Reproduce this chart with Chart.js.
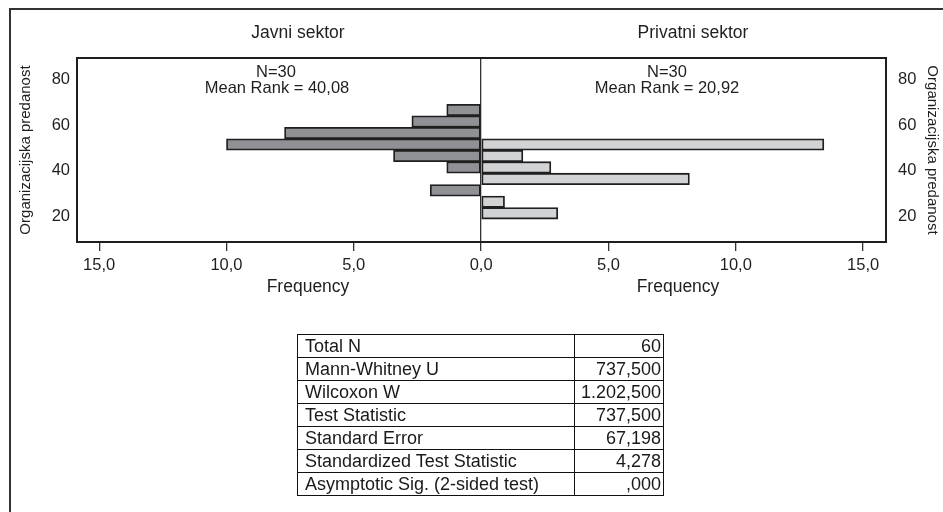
<!DOCTYPE html>
<html>
<head>
<meta charset="utf-8">
<title>Organizacijska predanost – Javni i privatni sektor</title>
<script src="https://cdn.jsdelivr.net/npm/chart.js@4/dist/chart.umd.min.js"></script>
<style>
  html, body { margin: 0; padding: 0; background: #fff; overflow: hidden; }
  #wrap { position: relative; width: 943px; height: 512px; overflow: hidden; background: #fff; }
  .rule { position: absolute; background: #333; }
  #ruleTop { left: 9px; top: 8px; width: 934px; height: 2px; }
  #ruleLeft { left: 9px; top: 8px; width: 2px; height: 504px; }
  #chart { position: absolute; left: 0; top: 0; }
  #stats { position: absolute; left: 297px; top: 334px; border-collapse: collapse;
           font-family: "Liberation Sans", Arial, sans-serif; font-size: 18px; color: #1a1a1a; }
  #stats td { border: 1px solid #111; height: 22px; padding: 0 2px 0 7px; line-height: 20px;
              white-space: nowrap; }
  #stats td.lbl { width: 267px; }
  #stats td.val { width: 84px; text-align: right; padding-left: 2px; }
</style>
</head>
<body>
<div id="wrap">
  <div class="rule" id="ruleTop"></div>
  <div class="rule" id="ruleLeft"></div>
  <canvas id="chart" width="943" height="512"></canvas>
  <table id="stats"><tbody></tbody></table>
</div>
<script>
// Histogram bins of "Organizacijska predanost" (bin centres, width 5)
const binCenters   = [21.5, 26.5, 31.5, 36.5, 41.5, 46.5, 51.5, 56.5, 61.5, 66.5];
// Frequencies per bin, public sector (left) and private sector (right)
const javniFreq    = [0, 0, 2.00, 0, 1.35, 3.44, 10.00, 7.72, 2.72, 1.35];
const privatniFreq = [3.01, 0.92, 0, 8.18, 2.74, 1.64, 13.46, 0, 0, 0];

const groupNames = ["Javni sektor", "Privatni sektor"];
const groupN     = [30, 30];
const meanRanks  = ["40,08", "20,92"];

const freqTicks  = [-15, -10, -5, 0, 5, 10, 15];
const scoreTicks = [20, 40, 60, 80];

// Independent-samples Mann-Whitney U test summary
const statLabels = ["Total N", "Mann-Whitney U", "Wilcoxon W", "Test Statistic",
                    "Standard Error", "Standardized Test Statistic", "Asymptotic Sig. (2-sided test)"];
const statValues = ["60", "737,500", "1.202,500", "737,500", "67,198", "4,278", ",000"];

const FONT = '"Liberation Sans", Arial, sans-serif';
const INK = '#1f1f1f';

// bins with zero count are simply not drawn
function toPoints(freqs, sign) {
  const pts = [];
  freqs.forEach((f, i) => { if (f > 0) pts.push({ x: sign * f, y: binCenters[i] }); });
  return pts;
}

const fmtFreq = v => Math.abs(v).toFixed(1).replace('.', ',');

// frame around the plotting area plus group captions
const decorations = {
  id: 'decorations',
  afterDraw(chart) {
    const { ctx, chartArea: a } = chart;
    ctx.save();
    ctx.strokeStyle = INK;
    ctx.lineWidth = 2;
    ctx.strokeRect(a.left, a.top, a.right - a.left, a.bottom - a.top);

    ctx.fillStyle = INK;
    ctx.textAlign = 'center';
    ctx.textBaseline = 'alphabetic';

    ctx.font = '17.5px ' + FONT;
    ctx.fillText(groupNames[0], 298, 38);
    ctx.fillText(groupNames[1], 693, 38);

    ctx.font = '16.5px ' + FONT;
    ctx.fillText('N=' + groupN[0], 276, 76.5);
    ctx.fillText('Mean Rank = ' + meanRanks[0], 277, 92.5);
    ctx.fillText('N=' + groupN[1], 667, 76.5);
    ctx.fillText('Mean Rank = ' + meanRanks[1], 667, 92.5);

    ctx.font = '17.5px ' + FONT;
    ctx.fillText('Frequency', 308, 292);
    ctx.fillText('Frequency', 678, 292);
    ctx.restore();
  }
};

const barStyle = {
  borderColor: INK,
  borderWidth: 1.8,
  borderSkipped: false,
  grouped: false,
  barPercentage: 1,
  categoryPercentage: 1,
  yAxisID: 'y'
};

new Chart(document.getElementById('chart'), {
  type: 'bar',
  data: {
    datasets: [
      Object.assign({ label: groupNames[0], data: toPoints(javniFreq, -1), backgroundColor: '#909194' }, barStyle),
      Object.assign({ label: groupNames[1], data: toPoints(privatniFreq, 1), backgroundColor: '#d2d3d5' }, barStyle)
    ]
  },
  options: {
    indexAxis: 'y',
    responsive: false,
    animation: false,
    layout: { padding: { top: 58, left: 0, right: 0, bottom: 0 } },
    plugins: { legend: { display: false }, tooltip: { enabled: false } },
    scales: {
      x: {
        type: 'linear',
        min: -15.87, max: 15.9,
        afterBuildTicks: s => { s.ticks = freqTicks.map(v => ({ value: v })); },
        afterFit: s => { s.height = 270; },
        ticks: { callback: v => fmtFreq(v), color: INK, padding: 5,
                 font: { family: FONT, size: 16.5 }, maxRotation: 0, autoSkip: false },
        grid: {
          color: c => (c.tick && c.tick.value === 0) ? '#333' : 'rgba(0,0,0,0)',
          lineWidth: 1.3, tickColor: '#333', tickLength: 9, tickWidth: 1.3
        },
        border: { display: false }
      },
      y: {
        type: 'linear',
        position: 'left',
        offset: false,
        min: 9, max: 89.2,
        afterBuildTicks: s => { s.ticks = scoreTicks.map(v => ({ value: v })); },
        afterFit: s => { s.width = 77; },
        ticks: { color: INK, padding: 7, font: { family: FONT, size: 16.5 } },
        grid: { display: false, drawTicks: false },
        border: { display: false },
        title: { display: true, text: 'Organizacijska predanost', color: INK,
                 font: { family: FONT, size: 15 }, padding: { top: 17, bottom: 0 } }
      },
      y2: {
        type: 'linear',
        position: 'right',
        offset: false,
        min: 9, max: 89.2,
        afterBuildTicks: s => { s.ticks = scoreTicks.map(v => ({ value: v })); },
        afterFit: s => { s.width = 57; },
        ticks: { color: INK, padding: 12, font: { family: FONT, size: 16.5 } },
        grid: { display: false, drawTicks: false },
        border: { display: false },
        title: { display: true, text: 'Organizacijska predanost', color: INK,
                 font: { family: FONT, size: 15 }, padding: { top: 2, bottom: 0 } }
      }
    }
  },
  plugins: [decorations]
});

// summary table below the chart
const tbody = document.querySelector('#stats tbody');
statLabels.forEach((lbl, i) => {
  const tr = document.createElement('tr');
  const a = document.createElement('td'); a.className = 'lbl'; a.textContent = lbl;
  const b = document.createElement('td'); b.className = 'val'; b.textContent = statValues[i];
  tr.appendChild(a); tr.appendChild(b); tbody.appendChild(tr);
});
</script>
</body>
</html>
